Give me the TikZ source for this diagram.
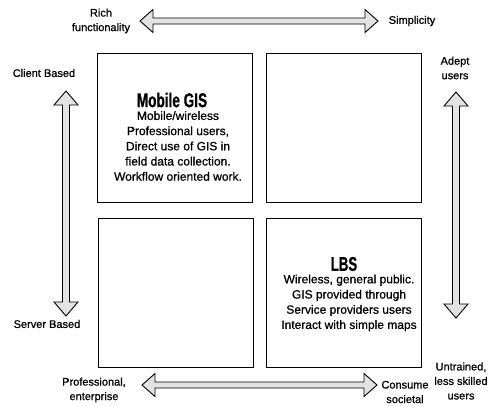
\documentclass[tikz,border=0pt]{standalone}
\usepackage{fontspec}
\setmainfont{Liberation Sans}[FakeBold=0.8]
\begin{document}
\begin{tikzpicture}[x=1pt,y=-1pt,
  quad/.style={draw=black,line width=0.9pt,minimum width=155pt,minimum height=149pt,inner sep=0pt},
  fatarrow/.style={draw=black,line width=0.9pt,fill=gray!22,line join=miter},
  lbl/.style={font=\fontsize{11}{14.5}\selectfont\addfontfeature{FakeBold=0.8},align=center,inner sep=0pt},
  body/.style={font=\fontsize{12}{15.2}\selectfont\addfontfeature{FakeBold=0.8},align=center,inner sep=0pt},
  title/.style={font=\fontsize{20}{20}\selectfont\bfseries,inner sep=0pt}]
\useasboundingbox (0,0) rectangle (501,405);
% boxes
\node[quad] (tl) at (175,128) {};
\node[quad] (tr) at (343.5,128) {};
\node[quad] (bl) at (175.5,292.5) {};
\node[quad] (br) at (343.5,292.5) {};
% box texts
\node[title] (t1) at (172,100) {\scalebox{0.68}[1]{Mobile GIS}};
\node[body] (b1) at (178,146) {Mobile/wireless\\Professional users,\\Direct use of GIS in\\field data collection.\\Workflow oriented work.};
\node[title] (t2) at (344,264) {\scalebox{0.66}[1]{LBS}};
\node[body] (b2) at (349,303) {Wireless, general public.\\GIS provided through\\Service providers users\\Interact with simple maps};
% arrows
\path[fatarrow] (140,21) -- (153,9.5) -- (153,18) -- (365,18) -- (365,9.5) -- (378,21) -- (365,32.5) -- (365,24) -- (153,24) -- (153,32.5) -- cycle;
\path[fatarrow] (142,385) -- (155,373.5) -- (155,382) -- (364,382) -- (364,373.5) -- (377,385) -- (364,396.5) -- (364,388) -- (155,388) -- (155,396.5) -- cycle;
\path[fatarrow] (66,91) -- (78,105) -- (69.5,105) -- (69.5,302) -- (78,302) -- (66,316) -- (54,302) -- (62.5,302) -- (62.5,105) -- (54,105) -- cycle;
\path[fatarrow] (456,92) -- (468,106) -- (459.5,106) -- (459.5,304) -- (468,304) -- (456,318) -- (444,304) -- (452.5,304) -- (452.5,106) -- (444,106) -- cycle;
% labels
\node[lbl] (rich) at (101,21) {Rich\\functionality};
\node[lbl] (simp) at (412,21) {Simplicity};
\node[lbl] (client) at (44,73) {Client Based};
\node[lbl] (server) at (47,324) {Server Based};
\node[lbl] (adept) at (455,68) {Adept\\users};
\node[lbl] (untr) at (461,381) {Untrained,\\less skilled\\users};
\node[lbl] (prof) at (94,390) {Professional,\\enterprise};
\node[lbl] (cons) at (405,392) {Consume\\societal};
\end{tikzpicture}
\end{document}
